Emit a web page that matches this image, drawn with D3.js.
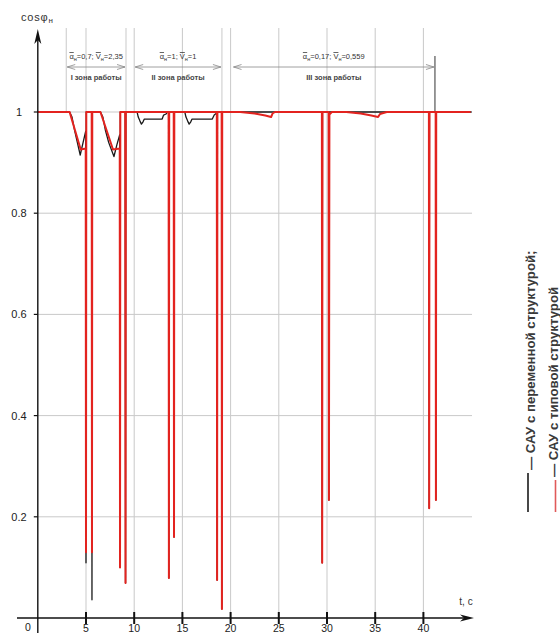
<!DOCTYPE html>
<html>
<head>
<meta charset="utf-8">
<script src="https://cdn.jsdelivr.net/npm/d3@7"></script>
<style>
  html, body { margin: 0; padding: 0; background: #fff; }
  svg { display: block; }
  text { font-family: "Liberation Sans", Arial, sans-serif; }
</style>
</head>
<body>
<script>
// Time ticks (s) and cos φ ticks
const timeTicks = [5, 10, 15, 20, 25, 30, 35, 40];
const cosTicks = [0.2, 0.4, 0.6, 0.8, 1];

// САУ с переменной структурой: [t, cos φ]
const variableStructure = [
  [0, 1], [3.3, 1], [3.55, 0.99], [3.8, 0.965], [4.1, 0.94], [4.4, 0.915], [4.7, 0.94], [4.97, 0.962],
  [5.0, 0.109], [5.03, 1], [5.59, 1], [5.62, 0.036], [5.65, 1],
  [6.5, 1], [6.75, 0.99], [7.0, 0.965], [7.35, 0.94], [7.9, 0.912], [8.2, 0.935], [8.5, 0.955],
  [8.53, 0.10], [8.56, 1], [9.07, 1], [9.1, 0.069], [9.13, 1],
  [10.3, 1], [10.42, 0.99], [10.6, 0.982], [10.75, 0.976], [10.9, 0.98], [11.05, 0.986], [12.9, 0.986],
  [13.05, 0.994], [13.3, 0.996], [13.45, 1],
  [13.57, 1], [13.6, 0.079], [13.63, 1], [14.1, 1], [14.13, 0.16], [14.16, 1],
  [15.25, 1], [15.37, 0.99], [15.55, 0.982], [15.7, 0.976], [15.85, 0.98], [16.0, 0.986], [18.1, 0.986],
  [18.3, 0.994], [18.5, 0.997], [18.57, 1],
  [18.6, 0.075], [18.63, 1], [19.07, 1], [19.1, 0.018], [19.13, 1],
  [29.47, 1], [29.5, 0.109], [29.53, 1], [30.17, 1], [30.2, 0.233], [30.23, 1],
  [40.57, 1], [40.6, 0.217], [40.63, 1], [41.27, 1], [41.3, 0.233], [41.33, 1],
  [45, 1]
];

// САУ с типовой структурой: [t, cos φ]
const typicalStructure = [
  [0, 1], [3.3, 1], [4.45, 0.926], [4.97, 0.928], [5.0, 0.13], [5.03, 1], [5.59, 1], [5.62, 0.13], [5.65, 1],
  [6.5, 1], [7.8, 0.926], [8.5, 0.928], [8.53, 0.10], [8.56, 1], [9.07, 1], [9.1, 0.069], [9.13, 1],
  [13.57, 1], [13.6, 0.079], [13.63, 1], [14.1, 1], [14.13, 0.16], [14.16, 1],
  [18.57, 1], [18.6, 0.075], [18.63, 1], [19.07, 1], [19.1, 0.018], [19.13, 1],
  [21, 1], [22.5, 0.997], [23.6, 0.993], [24.2, 0.99], [24.35, 0.997], [24.6, 1],
  [29.47, 1], [29.5, 0.109], [29.53, 1], [30.17, 1], [30.2, 0.233], [30.25, 0.995], [30.5, 1],
  [32, 1], [33.5, 0.997], [34.6, 0.993], [35.3, 0.99], [35.5, 0.996], [36.2, 1],
  [40.57, 1], [40.6, 0.217], [40.63, 1], [41.27, 1], [41.3, 0.233], [41.33, 1],
  [44.9, 1]
];

// Operating zones: bounds in seconds and their captions
const zoneBounds = [[2.95, 9.15], [10, 19.1], [20.2, 41.2]];
const zoneAlpha = ["0,7", "1", "0,17"];
const zoneV = ["2,35", "1", "0,559"];
const zoneNames = ["I зона работы", "II зона работы", "III зона работы"];

const legendLabels = ["— САУ с переменной структурой;", "— САУ с типовой структурой"];

const W = 560, H = 633;
const RED = "#e3231f", BLACK = "#1a1a1a", GRID = "#c9c9c9";

const svg = d3.select("body").append("svg").attr("width", W).attr("height", H);

const x = d3.scaleLinear().domain([0, 45]).range([37.8, 471.6]);
const y = d3.scaleLinear().domain([0, 1]).range([618, 112]);
const gridTop = 28;

// vertical grid
svg.append("g").selectAll("line").data(timeTicks).join("line")
  .attr("x1", d => x(d)).attr("x2", d => x(d))
  .attr("y1", gridTop).attr("y2", y(0))
  .attr("stroke", GRID).attr("stroke-width", 1);

// horizontal grid
svg.append("g").selectAll("line").data(cosTicks).join("line")
  .attr("x1", x(0)).attr("x2", 472)
  .attr("y1", d => y(d)).attr("y2", d => y(d))
  .attr("stroke", GRID).attr("stroke-width", 1);

// zone boundary lines
const zoneEdges = [zoneBounds[0][0], zoneBounds[0][1], zoneBounds[1][1]];
svg.append("g").selectAll("line").data(zoneEdges).join("line")
  .attr("x1", d => x(d)).attr("x2", d => x(d))
  .attr("y1", gridTop).attr("y2", y(1))
  .attr("stroke", GRID).attr("stroke-width", 1);
svg.append("line")
  .attr("x1", x(zoneBounds[2][1])).attr("x2", x(zoneBounds[2][1]))
  .attr("y1", 56).attr("y2", y(1))
  .attr("stroke", "#333").attr("stroke-width", 1);

// zone arrows and captions
const zg = svg.append("g");
zoneBounds.forEach((b, i) => {
  const x1 = x(b[0]) + 1, x2 = x(b[1]) - 1, ya = 67, cx = (x1 + x2) / 2;
  zg.append("line").attr("x1", x1).attr("x2", x2).attr("y1", ya).attr("y2", ya)
    .attr("stroke", "#888").attr("stroke-width", 0.8);
  zg.append("path").attr("d", `M${x1 + 8},${ya - 2.5}L${x1},${ya}L${x1 + 8},${ya + 2.5}`)
    .attr("fill", "none").attr("stroke", "#888").attr("stroke-width", 0.8);
  zg.append("path").attr("d", `M${x2 - 8},${ya - 2.5}L${x2},${ya}L${x2 - 8},${ya + 2.5}`)
    .attr("fill", "none").attr("stroke", "#888").attr("stroke-width", 0.8);

  const t = zg.append("text").attr("x", cx).attr("y", 59).attr("text-anchor", "middle")
    .attr("font-size", 7.5).attr("font-family", "Liberation Serif, serif").attr("fill", "#333");
  t.append("tspan").style("text-decoration", "overline").text("α");
  t.append("tspan").attr("font-size", 5.5).attr("dy", 1.5).text("н");
  t.append("tspan").attr("dy", -1.5).text("=" + zoneAlpha[i] + "; ");
  t.append("tspan").style("text-decoration", "overline").text("V");
  t.append("tspan").attr("font-size", 5.5).attr("dy", 1.5).text("н");
  t.append("tspan").attr("dy", -1.5).text("=" + zoneV[i]);

  zg.append("text").attr("x", cx).attr("y", 80).attr("text-anchor", "middle")
    .attr("font-size", 7.5).attr("font-weight", "bold")
    .attr("font-family", "Liberation Serif, serif").attr("fill", "#444")
    .text(zoneNames[i]);
});

// series
const line = d3.line().x(d => x(d[0])).y(d => y(d[1]));
svg.append("path").datum(variableStructure).attr("d", line)
  .attr("fill", "none").attr("stroke", BLACK).attr("stroke-width", 1.3)
  .attr("stroke-linejoin", "round");
svg.append("path").datum(typicalStructure).attr("d", line)
  .attr("fill", "none").attr("stroke", RED).attr("stroke-width", 2)
  .attr("stroke-linejoin", "round");

// axes
const ax = svg.append("g");
ax.append("line").attr("x1", 17).attr("x2", 466).attr("y1", y(0)).attr("y2", y(0))
  .attr("stroke", "#111").attr("stroke-width", 1.4);
ax.append("path").attr("d", `M474,${y(0)}L460,${y(0) - 3.5}L464,${y(0)}L460,${y(0) + 3.5}Z`).attr("fill", "#111");
ax.append("line").attr("x1", x(0)).attr("x2", x(0)).attr("y1", 633).attr("y2", 38)
  .attr("stroke", "#111").attr("stroke-width", 1.4);
ax.append("path").attr("d", `M${x(0)},29L${x(0) - 3.5},44L${x(0)},40L${x(0) + 3.5},44Z`).attr("fill", "#111");

// x ticks and labels
ax.selectAll(".xt").data(timeTicks).join("line").attr("class", "xt")
  .attr("x1", d => x(d)).attr("x2", d => x(d)).attr("y1", y(0) - 6).attr("y2", y(0) + 6)
  .attr("stroke", "#111").attr("stroke-width", 2);
ax.selectAll(".xl").data(timeTicks).join("text").attr("class", "xl")
  .attr("x", d => x(d)).attr("y", 632).attr("text-anchor", "middle")
  .attr("font-size", 10.5).attr("fill", "#222").text(d => d);
ax.append("text").attr("x", 28).attr("y", 631).attr("text-anchor", "middle")
  .attr("font-size", 10.5).attr("fill", "#222").text("0");

// y ticks and labels
ax.selectAll(".yt").data(cosTicks).join("line").attr("class", "yt")
  .attr("x1", x(0) - 4).attr("x2", x(0)).attr("y1", d => y(d)).attr("y2", d => y(d))
  .attr("stroke", "#111").attr("stroke-width", 1.2);
ax.selectAll(".yl").data(cosTicks).join("text").attr("class", "yl")
  .attr("x", 19).attr("y", d => y(d) + 4).attr("text-anchor", "middle")
  .attr("font-size", 11).attr("fill", "#222").text(d => d === 1 ? "1" : d.toString());

// axis titles
const yt = ax.append("text").attr("x", 21).attr("y", 21)
  .attr("font-size", 11).attr("letter-spacing", 0.8)
  .attr("font-family", "Liberation Serif, serif").attr("fill", "#333");
yt.append("tspan").text("cosφ");
yt.append("tspan").attr("font-size", 8).attr("dy", 2).text("н");
ax.append("text").attr("x", 466).attr("y", 605).attr("text-anchor", "middle")
  .attr("font-size", 10).attr("font-family", "Liberation Serif, serif").attr("fill", "#333").text("t, c");

// legend (vertical)
const legendColors = [BLACK, "#e05a5a"];
const legendLineX = [528, 555.5];
const legendTextX = [534.5, 557.5];
const lg = svg.append("g");
legendLabels.forEach((lab, i) => {
  lg.append("line").attr("x1", legendLineX[i]).attr("x2", legendLineX[i])
    .attr("y1", i === 0 ? 473 : 480).attr("y2", 512)
    .attr("stroke", legendColors[i]).attr("stroke-width", 1.6);
  lg.append("text")
    .attr("transform", `translate(${legendTextX[i]},${i === 0 ? 470 : 477}) rotate(-90)`)
    .attr("font-size", 13.2).attr("font-weight", "bold").attr("fill", "#3a3a3a").text(lab);
});
</script>
</body>
</html>
